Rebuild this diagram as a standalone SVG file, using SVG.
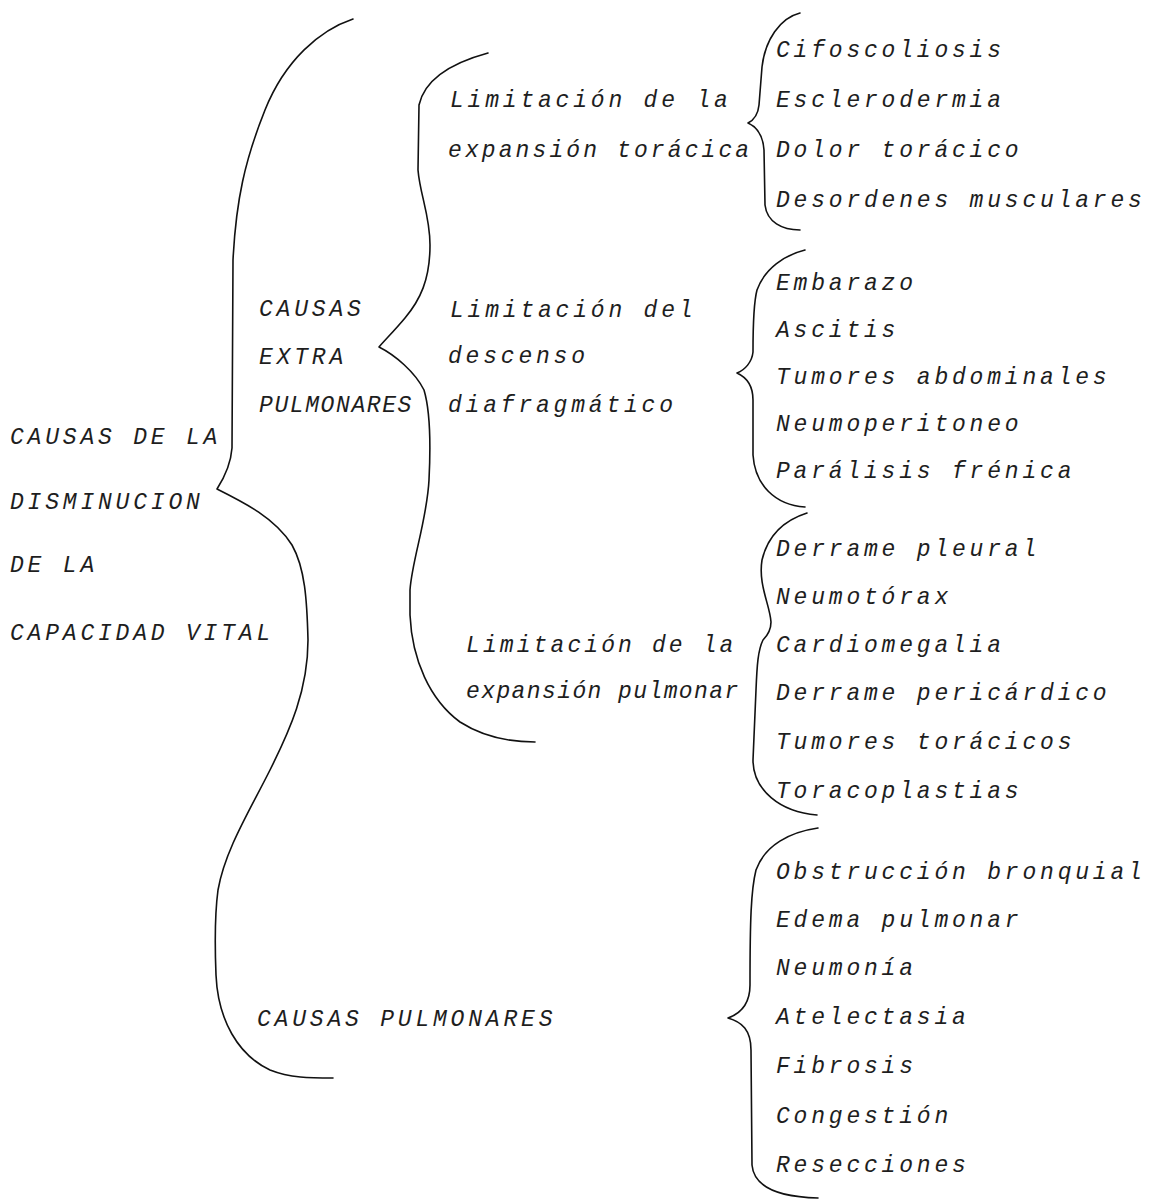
<svg xmlns="http://www.w3.org/2000/svg" width="1151" height="1202" viewBox="0 0 1151 1202">
<style>
  .t { font-family: "Liberation Mono", "DejaVu Sans Mono", monospace; font-style: italic; font-size: 23px; letter-spacing: 3.8px; fill: #1e1e1e; }
  .b { fill: none; stroke: #111; stroke-width: 1.6; stroke-linecap: round; stroke-linejoin: round; }
</style>
<rect width="1151" height="1202" fill="#ffffff"/>

<g id="connectors">
  <path id="brace-main" class="b" d="M353,19 C320,30 285,60 265,110 C245,160 236,200 233,260 L232,448 C231,462 226,475 217,489 C245,503 275,518 292,545 C305,568 307,600 308,640 C308,690 290,730 270,770 C250,810 225,850 218,890 C214,920 215,950 216,975 C218,1020 238,1055 270,1070 C290,1078 310,1078 333,1078"/>
  <path id="brace-extra" class="b" d="M488,53 C455,62 425,78 419,105 L418,170 C420,195 430,215 430,245 C430,280 420,300 405,318 C395,330 385,340 379,347 C395,355 415,372 424,390 C430,410 431,440 429,480 C427,520 412,560 410,590 L410,615 C412,660 430,700 460,722 C485,738 510,742 535,742"/>
  <path id="brace-toracica" class="b" d="M800,13 C780,18 765,40 762,67 L759,105 C758,115 754,120 748,123 C757,127 763,135 764,150 L765,205 C767,222 782,230 800,230"/>
  <path id="brace-diafragma" class="b" d="M805,250 C785,255 765,268 757,290 C753,305 753,330 753,352 C752,362 745,370 737,373 C748,378 753,388 753,400 L753,455 C755,485 775,505 805,507"/>
  <path id="brace-pulmonar" class="b" d="M807,513 C785,520 768,535 762,560 C758,585 770,605 771,622 C771,630 767,636 763,640 C758,650 757,665 756,690 L753,760 C753,790 780,812 817,815"/>
  <path id="brace-pulmonares" class="b" d="M818,828 C790,832 765,845 756,870 C751,890 750,920 750,985 C750,1003 742,1013 728,1018 C742,1022 751,1030 751,1050 L752,1165 C754,1188 780,1197 818,1198"/>
</g>

<g id="node-root">
  <text class="t" x="10" y="444">CAUSAS DE LA</text>
  <text class="t" x="10" y="509">DISMINUCION</text>
  <text class="t" x="10" y="572">DE LA</text>
  <text class="t" x="10" y="640">CAPACIDAD VITAL</text>
</g>

<g id="node-extra">
  <text class="t" x="259" y="316">CAUSAS</text>
  <text class="t" x="259" y="364">EXTRA</text>
  <text class="t" x="259" y="412" style="letter-spacing:1.6px">PULMONARES</text>
</g>

<g id="node-pulmonares">
  <text class="t" x="257" y="1026">CAUSAS PULMONARES</text>
</g>

<g id="node-toracica">
  <text class="t" x="450" y="107">Limitación de la</text>
  <text class="t" x="448" y="157" style="letter-spacing:3.1px">expansión torácica</text>
</g>

<g id="node-diafragma">
  <text class="t" x="450" y="317">Limitación del</text>
  <text class="t" x="448" y="363">descenso</text>
  <text class="t" x="448" y="412">diafragmático</text>
</g>

<g id="node-pulmonar">
  <text class="t" x="466" y="652" style="letter-spacing:3.1px">Limitación de la</text>
  <text class="t" x="466" y="698" style="letter-spacing:1.4px">expansión pulmonar</text>
</g>

<g id="list-toracica">
  <text class="t" x="776" y="57">Cifoscoliosis</text>
  <text class="t" x="776" y="107">Esclerodermia</text>
  <text class="t" x="776" y="157">Dolor torácico</text>
  <text class="t" x="776" y="207">Desordenes musculares</text>
</g>

<g id="list-diafragma">
  <text class="t" x="776" y="290">Embarazo</text>
  <text class="t" x="776" y="337">Ascitis</text>
  <text class="t" x="776" y="384">Tumores abdominales</text>
  <text class="t" x="776" y="431">Neumoperitoneo</text>
  <text class="t" x="776" y="478">Parálisis frénica</text>
</g>

<g id="list-pulmonar">
  <text class="t" x="776" y="556">Derrame pleural</text>
  <text class="t" x="776" y="604">Neumotórax</text>
  <text class="t" x="776" y="652">Cardiomegalia</text>
  <text class="t" x="776" y="700">Derrame pericárdico</text>
  <text class="t" x="776" y="749">Tumores torácicos</text>
  <text class="t" x="776" y="798">Toracoplastias</text>
</g>

<g id="list-pulmonares">
  <text class="t" x="776" y="879">Obstrucción bronquial</text>
  <text class="t" x="776" y="927">Edema pulmonar</text>
  <text class="t" x="776" y="975">Neumonía</text>
  <text class="t" x="776" y="1024">Atelectasia</text>
  <text class="t" x="776" y="1073">Fibrosis</text>
  <text class="t" x="776" y="1123">Congestión</text>
  <text class="t" x="776" y="1172">Resecciones</text>
</g>
</svg>
